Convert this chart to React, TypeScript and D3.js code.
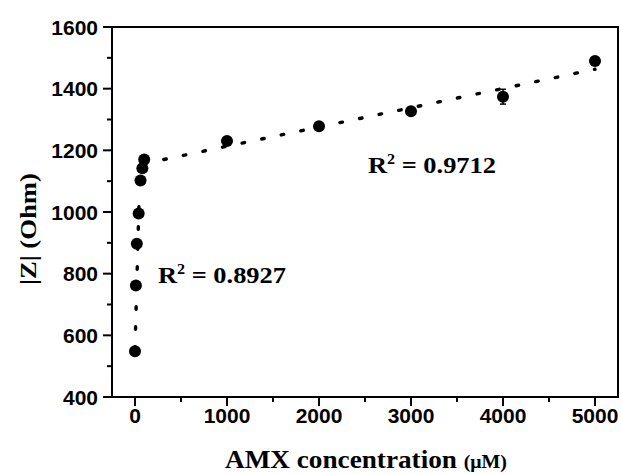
import React from "react";
import * as d3 from "d3";

const concX = [0, 10, 20, 40, 60, 80, 100, 1000, 2000, 3000, 4000, 5000];
const impedanceY = [548, 762, 897, 995, 1102, 1142, 1170, 1230, 1278, 1327, 1374, 1490];
const errY = [0, 0, 0, 0, 0, 0, 0, 0, 0, 10, 24, 0];

const fitLowX = [0, 45];
const fitLowY = [555, 1045];
const fitHighX = [100, 5000];
const fitHighY = [1157, 1463];

const xTicks = [0, 1000, 2000, 3000, 4000, 5000];
const xMinor = [500, 1500, 2500, 3500, 4500];
const yTicks = [400, 600, 800, 1000, 1200, 1400, 1600];
const yMinor = [500, 700, 900, 1100, 1300, 1500];

const r2Labels = [
  { x: 158, y: 283, v: "0.8927" },
  { x: 368, y: 173, v: "0.9712" },
];

export default function App() {
  const W = 621, H = 474;
  const x = d3.scaleLinear().domain([-250, 5250]).range([112, 618]);
  const y = d3.scaleLinear().domain([400, 1600]).range([397, 27]);
  const line = d3.line<[number, number]>().x((d) => x(d[0])).y((d) => y(d[1]));
  const sans = "'Liberation Sans', Arial, sans-serif";
  const serif = "'Liberation Serif', 'Times New Roman', serif";
  return (
    <svg width={W} height={H} style={{ position: "absolute", left: 0, top: 0, background: "#fff" }}>
      <rect x={0} y={0} width={W} height={H} fill="#fff" />
      {/* frame */}
      <rect x={x(-250)} y={y(1600)} width={x(5250) - x(-250)} height={y(400) - y(1600)} fill="none" stroke="#000" strokeWidth={2} />
      {/* y ticks */}
      {yTicks.map((t) => (
        <g key={"yt" + t}>
          <line x1={x(-250) - 9} x2={x(-250)} y1={y(t)} y2={y(t)} stroke="#000" strokeWidth={2} />
          <text x={98} y={y(t) + 7.5} textAnchor="end" fontFamily={sans} fontWeight="bold" fontSize={21}>{t}</text>
        </g>
      ))}
      {yMinor.map((t) => (
        <line key={"ym" + t} x1={x(-250) - 5} x2={x(-250)} y1={y(t)} y2={y(t)} stroke="#000" strokeWidth={2} />
      ))}
      {/* x ticks */}
      {xTicks.map((t) => (
        <g key={"xt" + t}>
          <line x1={x(t)} x2={x(t)} y1={y(400)} y2={y(400) + 9} stroke="#000" strokeWidth={2} />
          <text x={x(t)} y={423} textAnchor="middle" fontFamily={sans} fontWeight="bold" fontSize={21}>{t}</text>
        </g>
      ))}
      {xMinor.map((t) => (
        <line key={"xm" + t} x1={x(t)} x2={x(t)} y1={y(400)} y2={y(400) + 5} stroke="#000" strokeWidth={2} />
      ))}
      {/* fit lines */}
      <path d={line(fitLowX.map((v, i) => [v, fitLowY[i]]) as any) || ""} fill="none" stroke="#000" strokeWidth={3.4} strokeDasharray="2.5 17.5" strokeLinecap="round" />
      <path d={line(fitHighX.map((v, i) => [v, fitHighY[i]]) as any) || ""} fill="none" stroke="#000" strokeWidth={3.4} strokeDasharray="2.5 17.5" strokeLinecap="round" />
      {/* error bars */}
      {concX.map((v, i) =>
        errY[i] > 0 ? (
          <g key={"e" + i}>
            <line x1={x(v)} x2={x(v)} y1={y(impedanceY[i] - errY[i])} y2={y(impedanceY[i] + errY[i])} stroke="#000" strokeWidth={1.5} />
            <line x1={x(v) - 3} x2={x(v) + 3} y1={y(impedanceY[i] + errY[i])} y2={y(impedanceY[i] + errY[i])} stroke="#000" strokeWidth={1.5} />
            <line x1={x(v) - 3} x2={x(v) + 3} y1={y(impedanceY[i] - errY[i])} y2={y(impedanceY[i] - errY[i])} stroke="#000" strokeWidth={1.5} />
          </g>
        ) : null
      )}
      {/* points */}
      {concX.map((v, i) => (
        <circle key={"p" + i} cx={x(v)} cy={y(impedanceY[i])} r={6} fill="#000" />
      ))}
      {/* R² labels */}
      {r2Labels.map((l, i) => (
        <text key={"r" + i} x={l.x} y={l.y} fontFamily={serif} fontWeight="bold" fontSize={23} textLength={128} lengthAdjust="spacingAndGlyphs">
          R<tspan fontSize={14} dy={-9}>2</tspan><tspan dy={9}>{" = " + l.v}</tspan>
        </text>
      ))}
      {/* axis titles */}
      <text x={225} y={468} fontFamily={serif} fontWeight="bold" fontSize={26} textLength={282} lengthAdjust="spacingAndGlyphs">
        AMX concentration <tspan fontSize={19}>(μM)</tspan>
      </text>
      <text transform="translate(35.5,229) rotate(-90)" textAnchor="middle" fontFamily={serif} fontWeight="bold" fontSize={24} textLength={112} lengthAdjust="spacingAndGlyphs">
        |Z| (Ohm)
      </text>
    </svg>
  );
}
